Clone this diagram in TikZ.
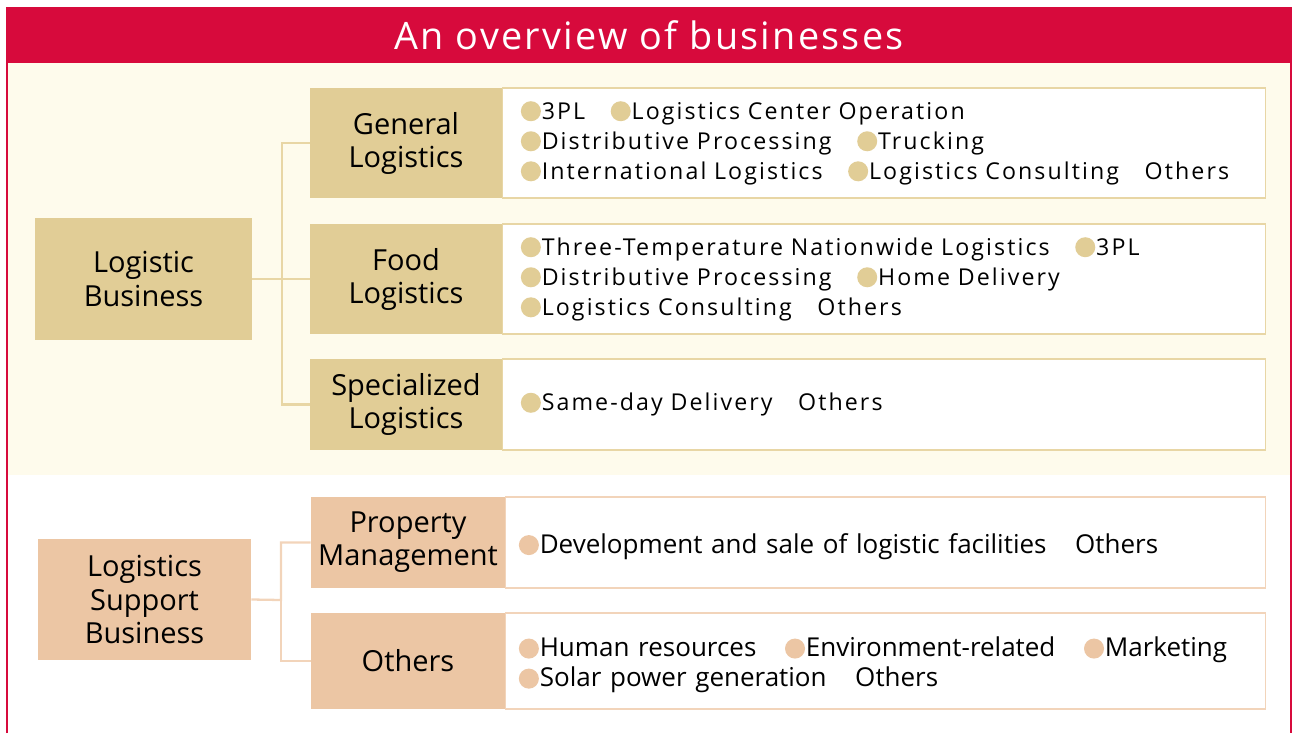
\documentclass[tikz,border=0pt]{standalone}
\usepackage{fontspec}
\setmainfont{Open Sans}
\newfontfamily\titlefont[LetterSpace=6]{Open Sans}
\newfontfamily\spacedfont[LetterSpace=9]{Open Sans}
\usetikzlibrary{positioning}
\definecolor{obred}{RGB}{215,10,60}
\definecolor{obcream}{RGB}{254,251,236}
\definecolor{obtan}{RGB}{225,205,150}
\definecolor{obtanline}{RGB}{232,214,165}
\definecolor{obpeach}{RGB}{236,198,164}
\definecolor{obpeachline}{RGB}{242,212,186}
\newcommand{\bdot}[1]{\tikz[baseline=-4.5pt]\fill[#1] (0,0) circle (5.7pt);\hspace{0.5pt}}
\newcommand{\gap}{\hspace{1.1em}}
\newcommand{\lift}{\rule{0pt}{15.5pt}}
\tikzstyle{group} = [rectangle, align=center, inner sep=0pt, font=\fontsize{16.5}{18.8}\selectfont]
\tikzstyle{segment} = [rectangle, align=center, inner sep=0pt, font=\fontsize{16.5}{18.8}\selectfont]
\tikzstyle{detail} = [rectangle, fill=white, line width=0.6pt, align=left, inner ysep=0pt, font=\spacedfont\fontsize{13.2}{17.1}\selectfont, inner xsep=0.36cm, minimum width=15.26cm, text width=14.54cm]
\tikzstyle{support} = [rectangle, fill=white, line width=0.6pt, align=left, inner ysep=0pt, font=\fontsize{14.8}{17.1}\selectfont, inner xsep=0.26cm, minimum width=15.2cm, text width=14.68cm]
\tikzstyle{link} = [line width=1.3pt]

\begin{document}
\begin{tikzpicture}[x=0.02cm, y=-0.02cm]
\useasboundingbox (0,0) rectangle (1293,733);
\fill[obcream] (8,63) rectangle (1290,475);
\fill[obred] (7,8) rectangle (1291,63);
\draw[obred, line width=0.8pt] (7,733) -- (7,8) -- (1291,8) -- (1291,733);
\node (title) [text=white, font=\titlefont\fontsize{21.5}{25}\selectfont] at (649,35) {An overview of businesses};

\node (lb) [group, fill=obtan, minimum width=4.34cm, minimum height=2.44cm] at (143.5,279) {Logistic\\Business};
\node (gl) [segment, fill=obtan, minimum width=3.84cm, minimum height=2.2cm] at (406,143) {General\\Logistics};
\node (fl) [segment, fill=obtan, minimum width=3.84cm, minimum height=2.2cm] at (406,279) {Food\\Logistics};
\node (sl) [segment, fill=obtan, minimum width=3.84cm, minimum height=1.82cm] at (406,404.5) {Specialized\\Logistics};

\node (gld) [detail, draw=obtanline, right=0pt of gl, minimum height=2.2cm] {\bdot{obtan}3PL\gap\bdot{obtan}Logistics Center Operation\\\bdot{obtan}Distributive Processing\gap\bdot{obtan}Trucking\\\bdot{obtan}International Logistics\gap\bdot{obtan}Logistics Consulting\gap Others};
\node (fld) [detail, draw=obtanline, right=0pt of fl, minimum height=2.2cm] {\bdot{obtan}Three-Temperature Nationwide Logistics\gap\bdot{obtan}3PL\\\bdot{obtan}Distributive Processing\gap\bdot{obtan}Home Delivery\\\bdot{obtan}Logistics Consulting\gap Others};
\node (sld) [detail, draw=obtanline, right=0pt of sl, minimum height=1.82cm] {\bdot{obtan}Same-day Delivery\gap Others};

\coordinate (lbj) at (282,279);
\draw[link, obtanline] (lb.east) -- (lbj) |- (gl.west);
\draw[link, obtanline] (lbj) -- (fl.west);
\draw[link, obtanline] (lbj) |- (sl.west);

\node (lsb) [group, fill=obpeach, minimum width=4.26cm, minimum height=2.42cm] at (144.5,599.5) {Logistics\\Support\\Business};
\node (pm) [segment, fill=obpeach, minimum width=3.88cm, minimum height=1.82cm] at (408,542.5) {Property\\Management};
\node (ot) [segment, fill=obpeach, minimum width=3.88cm, minimum height=1.92cm] at (408,661) {Others};

\node (pmd) [support, draw=obpeachline, right=0pt of pm, minimum height=1.82cm] {\lift\bdot{obpeach}Development and sale of logistic facilities\gap Others};
\node (otd) [support, draw=obpeachline, right=0pt of ot, minimum height=1.92cm] {\lift\bdot{obpeach}Human resources\gap\bdot{obpeach}Environment-related\gap\bdot{obpeach}Marketing\\\bdot{obpeach}Solar power generation\gap Others};

\coordinate (lsbj) at (281,600);
\draw[link, obpeachline] (lsb.east) -- (lsbj) |- (pm.west);
\draw[link, obpeachline] (lsbj) |- (ot.west);
\end{tikzpicture}
\end{document}
